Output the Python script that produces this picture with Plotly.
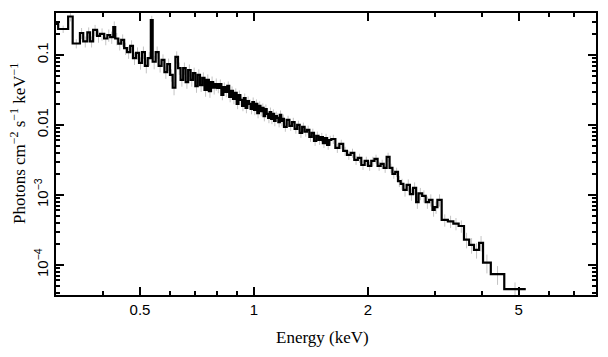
import numpy as np
import plotly.graph_objects as go

# Bin edges (keV) of the grouped spectrum
bin_edges_kev = [
    0.29, 0.304, 0.323, 0.332, 0.347, 0.354, 0.363, 0.369, 0.376, 0.385,
    0.392, 0.402, 0.410, 0.417, 0.425, 0.430, 0.438, 0.446, 0.454, 0.462,
    0.471, 0.479, 0.488, 0.497, 0.506, 0.515, 0.524, 0.534, 0.540, 0.550,
    0.56, 0.57, 0.58, 0.59, 0.60, 0.61, 0.62, 0.63, 0.64, 0.65,
    0.66, 0.67, 0.68, 0.69, 0.70, 0.71, 0.72, 0.73, 0.74, 0.75,
    0.76, 0.77, 0.78, 0.79, 0.80,
    0.81, 0.82, 0.83, 0.84, 0.85, 0.86, 0.87, 0.88, 0.89, 0.90,
    0.91, 0.92, 0.93, 0.94, 0.95, 0.96, 0.97, 0.98, 0.99, 1.00,
    1.01, 1.02, 1.03, 1.04, 1.05, 1.06, 1.07, 1.08, 1.09, 1.10,
    1.11, 1.12, 1.13, 1.14, 1.15, 1.16, 1.17, 1.18, 1.19, 1.20,
    1.22, 1.24, 1.26, 1.28, 1.30, 1.32, 1.34, 1.36, 1.38, 1.40,
    1.42, 1.44, 1.46, 1.48, 1.50, 1.52, 1.54, 1.56, 1.58, 1.60,
    1.64, 1.68, 1.72, 1.76, 1.80, 1.84, 1.88, 1.92, 1.96, 2.00,
    2.04, 2.08, 2.12, 2.16, 2.20, 2.24, 2.28, 2.32, 2.36, 2.40,
    2.44, 2.48,
    2.53, 2.58, 2.63, 2.68, 2.72, 2.78, 2.84, 2.90, 2.96, 3.00,
    3.05, 3.13,
    3.25, 3.36, 3.47, 3.585, 3.70, 3.81, 3.93, 4.025, 4.22, 4.58, 5.22,
]

# Flux per bin (photons cm^-2 s^-1 keV^-1)
flux = [
    0.277, 0.235, 0.355, 0.146, 0.206, 0.156, 0.21, 0.156, 0.228, 0.187,
    0.2, 0.172, 0.193, 0.18, 0.251, 0.172, 0.145, 0.164, 0.125, 0.11,
    0.135, 0.09, 0.107, 0.077, 0.11, 0.07, 0.09, 0.316, 0.08,
    0.11, 0.07, 0.085, 0.057, 0.074, 0.052, 0.034, 0.094, 0.065, 0.044,
    0.065, 0.041, 0.061, 0.044, 0.055, 0.036, 0.052, 0.037, 0.047, 0.0316,
    0.044, 0.0305, 0.041, 0.034, 0.0385,
    0.0338, 0.0385, 0.0268, 0.0349, 0.0296, 0.0361, 0.0251, 0.0306, 0.0235, 0.0287,
    0.0200, 0.0268, 0.0228, 0.0187, 0.0243, 0.0175, 0.0220, 0.0200, 0.0169, 0.0213,
    0.0164, 0.0200, 0.0148, 0.0187, 0.0158, 0.0175, 0.0134, 0.0169, 0.0144, 0.0126,
    0.0153, 0.0122, 0.0144, 0.0114, 0.0134, 0.0126, 0.0110, 0.0139, 0.0114, 0.0122,
    0.0094, 0.0118, 0.0097, 0.011, 0.0088, 0.01, 0.0077, 0.0094, 0.008, 0.0085,
    0.00674, 0.0077, 0.0059, 0.0070, 0.0061, 0.0067, 0.0055, 0.0065, 0.0052, 0.0061,
    0.0063, 0.00469, 0.00535, 0.00425, 0.00373, 0.00398, 0.00316, 0.00338, 0.00268, 0.00306,
    0.0026, 0.00306, 0.00327, 0.0026, 0.00277, 0.00243, 0.00349, 0.00243, 0.002, 0.00213,
    0.00158, 0.00144,
    0.00118, 0.00139, 0.00103, 0.00126, 0.00079, 0.00105, 0.00097, 0.00079, 0.00085, 0.00061,
    0.00067, 0.00085,
    0.00044, 0.00042, 0.00039, 0.00036, 0.00023, 0.000193, 0.000164, 0.000207, 0.000108,
    7.4e-5, 4.5e-5,
]

# Relative 1-sigma error per bin
rel_err = [
    0.15, 0.12, 0.15, 0.15, 0.18, 0.18, 0.18, 0.18, 0.18, 0.2,
    0.2, 0.2, 0.2, 0.2, 0.2, 0.2, 0.2, 0.2, 0.2, 0.2,
    0.2, 0.2, 0.2, 0.2, 0.2, 0.22, 0.22, 0.15, 0.22,
    0.2, 0.2, 0.2, 0.2, 0.2, 0.2, 0.22, 0.2, 0.2, 0.2,
    0.2, 0.2, 0.2, 0.2, 0.2, 0.2, 0.2, 0.2, 0.2, 0.2,
    0.2, 0.2, 0.2, 0.2, 0.2,
    0.16, 0.16, 0.16, 0.16, 0.16, 0.16, 0.16, 0.16, 0.16, 0.16,
    0.16, 0.16, 0.16, 0.16, 0.16, 0.16, 0.16, 0.16, 0.16, 0.16,
    0.16, 0.16, 0.16, 0.16, 0.16, 0.16, 0.16, 0.16, 0.16, 0.16,
    0.16, 0.16, 0.16, 0.16, 0.16, 0.16, 0.16, 0.16, 0.16, 0.16,
    0.15, 0.15, 0.15, 0.15, 0.15, 0.15, 0.15, 0.15, 0.15, 0.15,
    0.15, 0.15, 0.15, 0.15, 0.15, 0.15, 0.15, 0.15, 0.15, 0.15,
    0.15, 0.15, 0.15, 0.15, 0.15, 0.15, 0.15, 0.15, 0.15, 0.15,
    0.15, 0.15, 0.15, 0.15, 0.15, 0.15, 0.15, 0.15, 0.15, 0.15,
    0.18, 0.18,
    0.2, 0.2, 0.2, 0.2, 0.2, 0.2, 0.2, 0.2, 0.2, 0.2,
    0.2, 0.2,
    0.2, 0.2, 0.2, 0.2, 0.25, 0.25, 0.25, 0.25, 0.3, 0.3, 0.25,
]

x_tickvals = [0.5, 1, 2, 5]
x_ticktext = ["0.5", "1", "2", "5"]
x_minor = [0.3, 0.4, 0.6, 0.7, 0.8, 0.9, 3, 4, 6, 7, 8]
y_tickvals = [1e-4, 1e-3, 0.01, 0.1]
y_ticktext = ["10<sup>\u22124</sup>", "10<sup>\u22123</sup>", "0.01", "0.1"]
y_minor = [4e-5, 5e-5, 6e-5, 7e-5, 8e-5, 9e-5,
           2e-4, 3e-4, 4e-4, 5e-4, 6e-4, 7e-4, 8e-4, 9e-4,
           2e-3, 3e-3, 4e-3, 5e-3, 6e-3, 7e-3, 8e-3, 9e-3,
           0.02, 0.03, 0.04, 0.05, 0.06, 0.07, 0.08, 0.09, 0.2, 0.3]
x_title = "Energy (keV)"
y_title = "Photons cm<sup>\u22122</sup> s<sup>\u22121</sup> keV<sup>\u22121</sup>"

edges = np.array(bin_edges_kev)
vals = np.array(flux)
errs = vals * np.array(rel_err)
centers = np.sqrt(edges[:-1] * edges[1:])

fig = go.Figure()
fig.add_trace(go.Scatter(
    x=centers, y=vals, mode="markers",
    marker=dict(size=1, color="rgba(0,0,0,0)"),
    error_y=dict(type="data", array=errs, arrayminus=errs * 0.999,
                 color="#c4c4c4", thickness=1, width=0),
    hoverinfo="skip", showlegend=False,
))
fig.add_trace(go.Scatter(
    x=list(edges), y=list(vals) + [vals[-1]], mode="lines",
    line=dict(shape="hv", color="black", width=2.2),
    showlegend=False,
))

tickfont = dict(family="Liberation Sans, Arial, sans-serif", size=15, color="black")
titlefont = dict(family="Liberation Serif, Times New Roman, serif", size=17, color="black")

# page body has an 8 px margin, so the figure is shifted by 8 px; compensate
fig.update_layout(
    width=600, height=349,
    margin=dict(l=48, r=12, t=5, b=62),
    paper_bgcolor="white", plot_bgcolor="white",
    xaxis=dict(
        type="log", range=[np.log10(0.3), np.log10(8.0)],
        tickvals=x_tickvals, ticktext=x_ticktext,
        ticks="inside", ticklen=8, tickwidth=1.5, tickcolor="black",
        minor=dict(tickvals=x_minor, ticks="inside", ticklen=4, tickwidth=1.5, tickcolor="black"),
        showline=True, linecolor="black", linewidth=2, mirror="ticks",
        showgrid=False, zeroline=False, tickfont=tickfont,
        automargin=False,
    ),
    yaxis=dict(
        type="log", range=[-4.43, -0.4],
        tickvals=y_tickvals, ticktext=y_ticktext, tickangle=-90,
        ticks="inside", ticklen=8, tickwidth=1.5, tickcolor="black",
        minor=dict(tickvals=y_minor, ticks="inside", ticklen=4, tickwidth=1.5, tickcolor="black"),
        showline=True, linecolor="black", linewidth=2, mirror="ticks",
        showgrid=False, zeroline=False, tickfont=tickfont,
        automargin=False,
    ),
    annotations=[
        dict(text=x_title, xref="paper", yref="paper", x=0.4926, y=-0.149,
             xanchor="center", yanchor="middle", showarrow=False, font=titlefont),
        dict(text=y_title, xref="paper", yref="paper", x=-0.0704, y=0.539,
             xanchor="center", yanchor="middle", showarrow=False, font=titlefont,
             textangle=-90),
    ],
)

fig.write_html("out.html")
